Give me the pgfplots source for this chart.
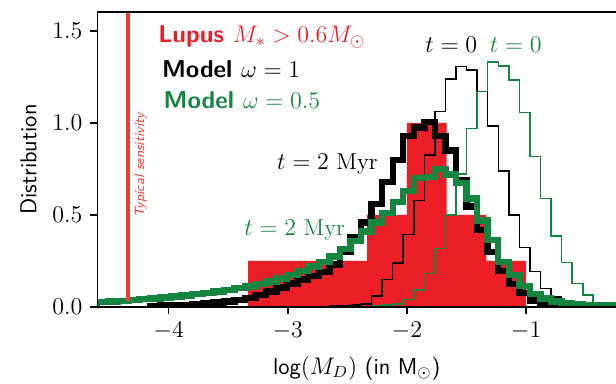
\documentclass[border=0pt]{standalone}
\usepackage{pgfplots}
\usepackage{pgfplotstable}
\pgfplotsset{compat=1.18}
\definecolor{lred}{RGB}{236,30,38}
\definecolor{sred}{RGB}{238,62,52}
\definecolor{mgreen}{RGB}{20,133,62}

\pgfplotstableread{
x y
-3.005 0
-3.005 0.001
-2.917 0.002
-2.828 0.003
-2.739 0.004
-2.651 0.005
-2.562 0.007
-2.474 0.010
-2.385 0.015
-2.296 0.060
-2.208 0.150
-2.119 0.240
-2.031 0.395
-1.942 0.580
-1.853 0.826
-1.765 1.061
-1.676 1.239
-1.588 1.306
-1.499 1.288
-1.410 1.170
-1.322 0.984
-1.233 0.739
-1.145 0.500
-1.056 0.322
-0.967 0.192
-0.879 0.100
-0.790 0.053
-0.702 0.020
-0.613 0.010
-0.524 0.005
-0.436 0.003
-0.347 0.002
-0.259 0.001
-0.170 0
}\blackthin

\pgfplotstableread{
x y
-2.562 0
-2.562 0.002
-2.474 0.003
-2.385 0.004
-2.296 0.006
-2.208 0.010
-2.119 0.017
-2.031 0.040
-1.942 0.092
-1.853 0.183
-1.765 0.319
-1.676 0.500
-1.588 0.722
-1.499 0.971
-1.410 1.170
-1.322 1.330
-1.233 1.310
-1.145 1.234
-1.056 1.058
-0.967 0.817
-0.879 0.590
-0.790 0.386
-0.702 0.241
-0.613 0.129
-0.524 0.065
-0.436 0.024
-0.347 0.011
-0.259 0.005
-0.170 0
}\greenthin

\pgfplotstableread{
x y
-4.157 0
-4.157 0.006
-4.068 0.008
-3.980 0.010
-3.891 0.012
-3.803 0.016
-3.714 0.020
-3.625 0.025
-3.537 0.030
-3.448 0.038
-3.360 0.050
-3.271 0.065
-3.182 0.085
-3.094 0.105
-3.005 0.128
-2.917 0.150
-2.828 0.170
-2.739 0.190
-2.651 0.230
-2.562 0.300
-2.474 0.380
-2.385 0.460
-2.296 0.560
-2.208 0.680
-2.119 0.800
-2.031 0.930
-1.942 0.975
-1.853 1.005
-1.765 0.930
-1.676 0.850
-1.588 0.690
-1.499 0.545
-1.410 0.420
-1.322 0.300
-1.233 0.195
-1.145 0.125
-1.056 0.075
-0.967 0.035
-0.879 0.015
-0.790 0.008
-0.702 0.004
-0.613 0.002
-0.524 0.001
-0.436 0.001
-0.347 0.001
-0.259 0.001
-0.170 0
}\blackthick

\pgfplotstableread{
x y
-4.600 0
-4.600 0.028
-4.511 0.030
-4.423 0.033
-4.334 0.037
-4.246 0.042
-4.157 0.047
-4.068 0.052
-3.980 0.057
-3.891 0.063
-3.803 0.070
-3.714 0.077
-3.625 0.085
-3.537 0.093
-3.448 0.102
-3.360 0.112
-3.271 0.124
-3.182 0.138
-3.094 0.155
-3.005 0.175
-2.917 0.197
-2.828 0.220
-2.739 0.245
-2.651 0.275
-2.562 0.315
-2.474 0.360
-2.385 0.410
-2.296 0.460
-2.208 0.510
-2.119 0.570
-2.031 0.630
-1.942 0.700
-1.853 0.705
-1.765 0.750
-1.676 0.720
-1.588 0.675
-1.499 0.590
-1.410 0.470
-1.322 0.365
-1.233 0.245
-1.145 0.175
-1.056 0.115
-0.967 0.072
-0.879 0.047
-0.790 0.030
-0.702 0.020
-0.613 0.015
-0.524 0.012
-0.436 0.010
-0.347 0.008
-0.259 0.006
-0.170 0
}\greenthick

\begin{document}
\fontsize{11.5}{13}\selectfont
\begin{tikzpicture}
\path[use as bounding box] (-48.7pt,-38.5pt) rectangle (259.3pt,153.5pt);
\begin{axis}[
  at={(0,0)}, anchor=south west,
  scale only axis, width=259.3pt, height=147.5pt,
  xmin=-4.598, xmax=-0.245, ymin=0, ymax=1.603,
  axis x line*=box, axis y line*=left,
  axis line style={-, line width=0.8pt},
  every outer y axis line/.append style={-},
  axis on top,
  xtick={-4,-3,-2,-1}, ytick={0,0.5,1,1.5},
  xtick pos=left, ytick pos=left,
  tick align=outside, major tick length=3.5pt,
  every tick/.style={black, line width=0.8pt},
  minor tick num=0,
  yticklabel style={/pgf/number format/.cd, fixed, fixed zerofill, precision=1},
  xlabel={\textsf{log}$(M_D)$ \textsf{(in M}$_\odot$\textsf{)}},
  ylabel={\textsf{Distribution}},
  xlabel style={at={(axis description cs:0.5,-0.207)}, anchor=center},
  ylabel style={at={(axis description cs:-0.133,0.5)}, anchor=center},
]
\addplot[fill=lred, draw=none, const plot mark left] coordinates {
 (-3.333,0.25) (-3.0,0.25) (-2.667,0.25) (-2.333,0.5) (-2.0,1.0) (-1.667,0.5) (-1.333,0.25) (-1.0,0.25)} \closedcycle;
\addplot[black, line width=0.75pt, const plot mark left, line join=miter] table[x=x,y=y] {\blackthin};
\addplot[mgreen, line width=0.75pt, const plot mark left, line join=miter] table[x=x,y=y] {\greenthin};
\addplot[black, line width=3.2pt, const plot mark left, line join=miter] table[x=x,y=y] {\blackthick};
\addplot[mgreen, line width=3.2pt, const plot mark left, line join=miter] table[x=x,y=y] {\greenthick};
\addplot[sred, line width=2.3pt] coordinates {(-4.34,0.03) (-4.34,1.65)};
\node[rotate=90, anchor=base west, inner sep=0, text=sred, font=\sffamily\itshape\fontsize{6.7}{8}\selectfont] at (axis cs:-4.206,0.482) {Typical sensitivity};
\node[anchor=base west, inner sep=0, text=lred, font=\sffamily\bfseries\fontsize{12.2}{14}\selectfont] at (axis cs:-4.09,1.435) {Lupus $M_*>0.6M_\odot$};
\node[anchor=base west, inner sep=0, font=\sffamily\bfseries\fontsize{12.2}{14}\selectfont] at (axis cs:-4.059,1.248) {Model $\omega=1$};
\node[anchor=base west, inner sep=0, text=mgreen, font=\sffamily\bfseries\fontsize{12.2}{14}\selectfont] at (axis cs:-4.045,1.08) {Model $\omega=0.5$};
\node[anchor=base west, inner sep=0] at (axis cs:-1.848,1.382) {$t=0$};
\node[anchor=base west, inner sep=0, text=mgreen] at (axis cs:-1.308,1.382) {$t=0$};
\node[anchor=base west, inner sep=0] at (axis cs:-3.093,0.745) {$t=2$ Myr};
\node[anchor=base west, inner sep=0, text=mgreen] at (axis cs:-3.368,0.39) {$t=2$ Myr};
\end{axis}
\end{tikzpicture}
\end{document}
